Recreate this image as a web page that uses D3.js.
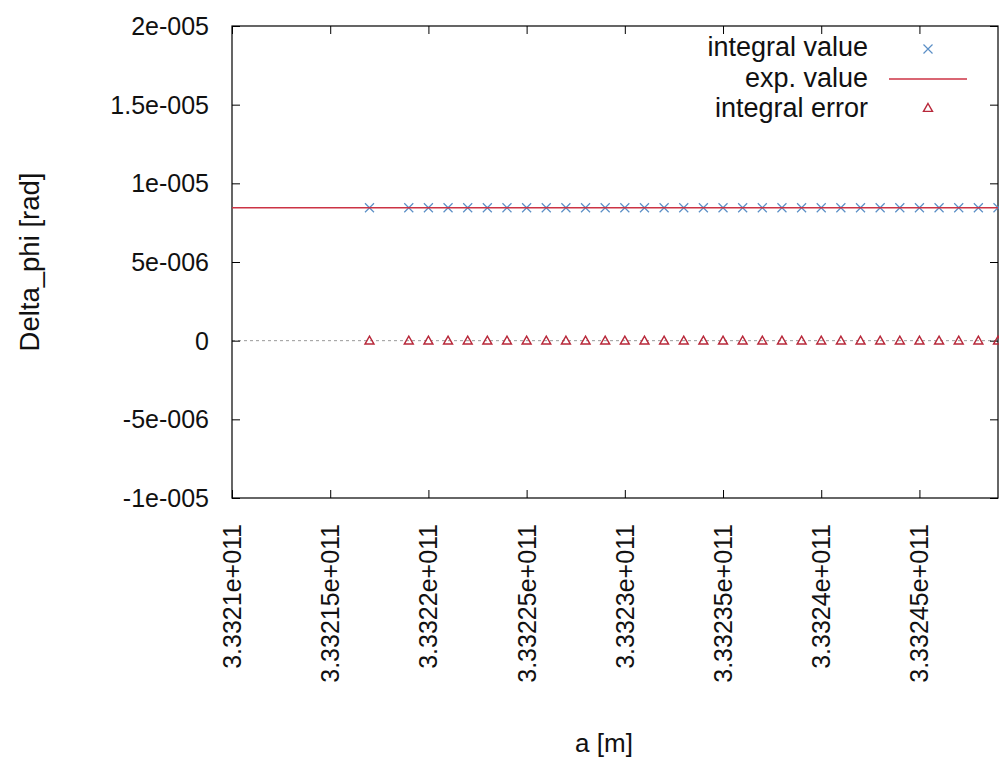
<!DOCTYPE html>
<html>
<head>
<meta charset="utf-8">
<script src="https://cdn.jsdelivr.net/npm/d3@7"></script>
<style>
  body { margin: 0; background: #fff; }
  svg { display: block; }
  text { font-family: "Liberation Sans", Arial, sans-serif; fill: #111; }
</style>
</head>
<body>
<svg id="chart" width="1001" height="780"></svg>
<script>
// ---- data ----
const aValues = [
  3.33217e11, 3.33219e11, 3.33220e11, 3.33221e11, 3.33222e11, 3.33223e11, 3.33224e11, 3.33225e11,
  3.33226e11, 3.33227e11, 3.33228e11, 3.33229e11, 3.33230e11, 3.33231e11, 3.33232e11, 3.33233e11,
  3.33234e11, 3.33235e11, 3.33236e11, 3.33237e11, 3.33238e11, 3.33239e11, 3.33240e11, 3.33241e11,
  3.33242e11, 3.33243e11, 3.33244e11, 3.33245e11, 3.33246e11, 3.33247e11, 3.33248e11, 3.33249e11
];
const integralValue = [
  8.45e-6, 8.45e-6, 8.45e-6, 8.45e-6, 8.45e-6, 8.45e-6, 8.45e-6, 8.45e-6,
  8.45e-6, 8.45e-6, 8.45e-6, 8.45e-6, 8.45e-6, 8.45e-6, 8.45e-6, 8.45e-6,
  8.45e-6, 8.45e-6, 8.45e-6, 8.45e-6, 8.45e-6, 8.45e-6, 8.45e-6, 8.45e-6,
  8.45e-6, 8.45e-6, 8.45e-6, 8.45e-6, 8.45e-6, 8.45e-6, 8.45e-6, 8.45e-6
];
const integralError = [
  0, 0, 0, 0, 0, 0, 0, 0,
  0, 0, 0, 0, 0, 0, 0, 0,
  0, 0, 0, 0, 0, 0, 0, 0,
  0, 0, 0, 0, 0, 0, 0, 0
];
const expValue = 8.45e-6;
const xDomain = [3.3321e11, 3.33249e11];
const yDomain = [-1e-5, 2e-5];
const xTicks = [3.3321e11, 3.33215e11, 3.3322e11, 3.33225e11, 3.3323e11, 3.33235e11, 3.3324e11, 3.33245e11];
const xTickLabels = ["3.3321e+011", "3.33215e+011", "3.3322e+011", "3.33225e+011", "3.3323e+011", "3.33235e+011", "3.3324e+011", "3.33245e+011"];
const yTicks = [-1e-5, -5e-6, 0, 5e-6, 1e-5, 1.5e-5, 2e-5];
const yTickLabels = ["-1e-005", "-5e-006", "0", "5e-006", "1e-005", "1.5e-005", "2e-005"];
const legendLabels = ["integral value", "exp. value", "integral error"];

// ---- layout ----
const L = 232, R = 998, T = 26, B = 498;
const colX = "#5b8fc6", colLine = "#cc3344", colTri = "#b8283a";
const FS = 25;

const svg = d3.select("#chart");
const x = d3.scaleLinear().domain(xDomain).range([L, R]);
const y = d3.scaleLinear().domain(yDomain).range([B, T]);

svg.append("defs").append("clipPath").attr("id", "clip")
  .append("rect").attr("x", L).attr("y", T).attr("width", R - L + 1).attr("height", B - T);

// zero axis
svg.append("line").attr("x1", L).attr("x2", R).attr("y1", y(0)).attr("y2", y(0))
  .attr("stroke", "#999").attr("stroke-width", 1).attr("stroke-dasharray", "3,3");

// axes (ticks inward, mirrored)
const tickLen = 8;
const axB = d3.axisBottom(x).tickValues(xTicks).tickSizeInner(-tickLen).tickSizeOuter(0).tickFormat("");
const axT = d3.axisTop(x).tickValues(xTicks).tickSizeInner(-tickLen).tickSizeOuter(0).tickFormat("");
const axLft = d3.axisLeft(y).tickValues(yTicks).tickSizeInner(-tickLen).tickSizeOuter(0).tickFormat("");
const axRgt = d3.axisRight(y).tickValues(yTicks).tickSizeInner(-tickLen).tickSizeOuter(0).tickFormat("");
[[axB, `translate(0,${B})`], [axT, `translate(0,${T})`], [axLft, `translate(${L},0)`], [axRgt, `translate(${R},0)`]]
  .forEach(([ax, tr]) => {
    const g = svg.append("g").attr("transform", tr).call(ax);
    g.select(".domain").remove();
    g.selectAll("line").attr("stroke", "#000").attr("stroke-width", 1);
  });

// border
svg.append("rect").attr("x", L).attr("y", T).attr("width", R - L).attr("height", B - T)
  .attr("fill", "none").attr("stroke", "#000").attr("stroke-width", 1.2);

// y tick labels
svg.append("g").selectAll("text").data(yTicks).join("text")
  .attr("x", 209).attr("y", d => y(d)).attr("text-anchor", "end")
  .attr("dominant-baseline", "central").attr("font-size", FS)
  .text((d, i) => yTickLabels[i]);

// x tick labels (rotated)
svg.append("g").selectAll("text").data(xTicks).join("text")
  .attr("transform", d => `translate(${x(d)},524) rotate(-90)`)
  .attr("text-anchor", "end").attr("dominant-baseline", "central").attr("font-size", FS)
  .text((d, i) => xTickLabels[i]);

// axis titles
svg.append("text").attr("transform", "translate(29,262) rotate(-90)")
  .attr("text-anchor", "middle").attr("dominant-baseline", "central").attr("font-size", 27.5)
  .text("Delta_phi [rad]");
svg.append("text").attr("x", 604).attr("y", 743).attr("text-anchor", "middle")
  .attr("dominant-baseline", "central").attr("font-size", 26).text("a [m]");

const plot = svg.append("g").attr("clip-path", "url(#clip)");

function cross(g, cx, cy, s) {
  g.append("path").attr("d", `M${cx - s},${cy - s}L${cx + s},${cy + s}M${cx - s},${cy + s}L${cx + s},${cy - s}`)
    .attr("stroke", colX).attr("stroke-width", 1.2).attr("fill", "none");
}
function tri(g, cx, cy, s) {
  g.append("path").attr("d", `M${cx},${cy - s}L${cx + s},${cy + s * 0.75}L${cx - s},${cy + s * 0.75}Z`)
    .attr("stroke", colTri).attr("stroke-width", 1.4).attr("fill", "none");
}

// integral value points
aValues.forEach((a, i) => cross(plot, x(a), y(integralValue[i]), 4.5));
// exp. value line
plot.append("line").attr("x1", L).attr("x2", R).attr("y1", y(expValue)).attr("y2", y(expValue))
  .attr("stroke", colLine).attr("stroke-width", 1.5);
// integral error points
aValues.forEach((a, i) => tri(plot, x(a), y(integralError[i]), 4.5));

// legend
const legY = [47, 78, 108];
svg.append("g").selectAll("text").data(legendLabels).join("text")
  .attr("x", 868).attr("y", (d, i) => legY[i]).attr("text-anchor", "end")
  .attr("dominant-baseline", "central").attr("font-size", 27).text(d => d);
cross(svg, 928, legY[0] + 2, 4.5);
svg.append("line").attr("x1", 889).attr("x2", 967).attr("y1", legY[1] + 1).attr("y2", legY[1] + 1)
  .attr("stroke", colLine).attr("stroke-width", 1.5);
tri(svg, 928, legY[2], 4.5);
</script>
</body>
</html>
